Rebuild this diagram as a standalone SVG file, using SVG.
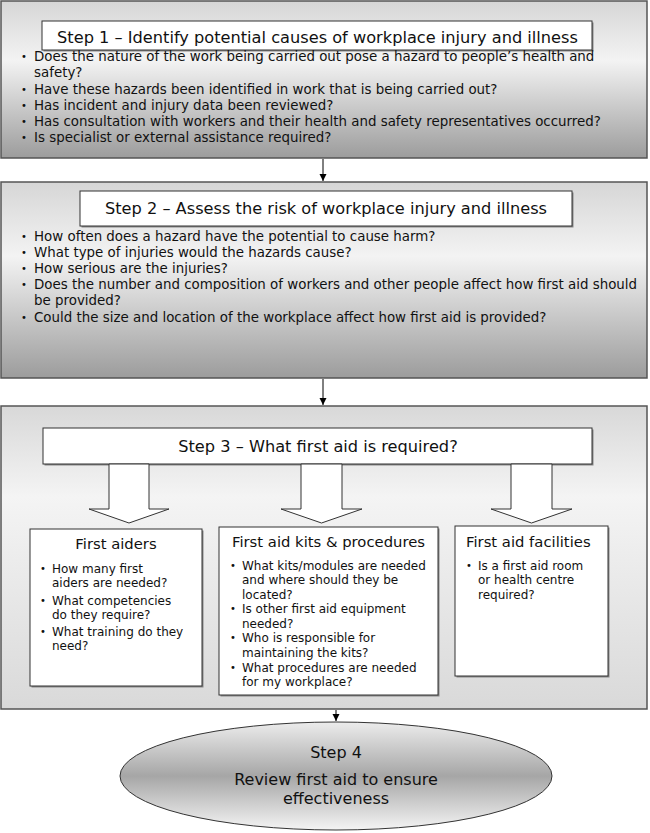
<svg xmlns="http://www.w3.org/2000/svg" width="650" height="833" viewBox="0 0 650 833">
<defs>
<linearGradient id="gStep" x1="0" y1="0" x2="0" y2="1">
<stop offset="0" stop-color="#d6d6d6"/>
<stop offset="0.38" stop-color="#f3f3f3"/>
<stop offset="1" stop-color="#9c9c9c"/>
</linearGradient>
<linearGradient id="gStep3" x1="0" y1="0" x2="0" y2="1">
<stop offset="0" stop-color="#d8d8d8"/>
<stop offset="0.3" stop-color="#f4f4f4"/>
<stop offset="1" stop-color="#d9d9d9"/>
</linearGradient>
<linearGradient id="gEll" x1="0" y1="0" x2="0" y2="1">
<stop offset="0" stop-color="#ececec"/>
<stop offset="0.5" stop-color="#a6a6a6"/>
<stop offset="1" stop-color="#f4f4f4"/>
</linearGradient>
<marker id="ah" markerWidth="8" markerHeight="8" refX="7" refY="4" orient="auto" markerUnits="userSpaceOnUse">
<path d="M0,0.5 L7,4 L0,7.5 Z" fill="#000"/>
</marker>
</defs>
<style>
text{font-family:"DejaVu Sans","Verdana",sans-serif;fill:#111}
.outer{stroke:#555;stroke-width:1.5}
.tbox{fill:#fff;stroke:#333;stroke-width:1}
.shadow{fill:#888}
.title{font-size:16.2px;text-anchor:middle}
.sub{font-size:14.8px}
.big{font-size:16px;text-anchor:middle}
.sb{font-size:13.4px}
.b{font-size:12px}
.dot{font-size:10px}
.conn{stroke:#000;stroke-width:1;fill:none;marker-end:url(#ah)}
.barrow{fill:#fff;stroke:#333;stroke-width:1}
</style>

<g id="step1">
<rect class="outer" x="1" y="1" width="646" height="157" fill="url(#gStep)"/>
<rect class="shadow" x="43.5" y="22.5" width="550" height="29"/>
<rect class="tbox" x="42" y="21" width="550" height="29"/>
<text class="title" x="317.5" y="42.5">Step 1 – Identify potential causes of workplace injury and illness</text>
<g class="sb">
<text class="dot" x="21" y="60">•</text><text x="34" y="61">Does the nature of the work being carried out pose a hazard to people’s health and</text>
<text x="34" y="77">safety?</text>
<text class="dot" x="21" y="92.5">•</text><text x="34" y="93.5">Have these hazards been identified in work that is being carried out?</text>
<text class="dot" x="21" y="108.5">•</text><text x="34" y="109.5">Has incident and injury data been reviewed?</text>
<text class="dot" x="21" y="125">•</text><text x="34" y="126">Has consultation with workers and their health and safety representatives occurred?</text>
<text class="dot" x="21" y="141">•</text><text x="34" y="142">Is specialist or external assistance required?</text>
</g>
</g>

<g id="step2">
<rect class="outer" x="1" y="182" width="646" height="196" fill="url(#gStep)"/>
<rect class="shadow" x="81.5" y="192.5" width="492" height="35"/>
<rect class="tbox" x="80" y="191" width="492" height="35"/>
<text class="title" x="326" y="213.5">Step 2 – Assess the risk of workplace injury and illness</text>
<g class="sb">
<text class="dot" x="21" y="239.5">•</text><text x="34" y="240.5">How often does a hazard have the potential to cause harm?</text>
<text class="dot" x="21" y="255.7">•</text><text x="34" y="256.7">What type of injuries would the hazards cause?</text>
<text class="dot" x="21" y="271.9">•</text><text x="34" y="272.9">How serious are the injuries?</text>
<text class="dot" x="21" y="288.1">•</text><text x="34" y="289.1">Does the number and composition of workers and other people affect how first aid should</text>
<text x="34" y="305.3">be provided?</text>
<text class="dot" x="21" y="320.5">•</text><text x="34" y="321.5">Could the size and location of the workplace affect how first aid is provided?</text>
</g>
</g>

<g id="step3">
<rect class="outer" x="1" y="406" width="646" height="303" fill="url(#gStep3)"/>
<rect class="shadow" x="44.5" y="429.5" width="549" height="36"/>
<rect class="tbox" x="43" y="428" width="549" height="36"/>
<text class="title" x="318" y="451.5">Step 3 – What first aid is required?</text>
</g>

<g id="blockarrows">
<polygon class="barrow" points="109,464 149,464 149,509 169,509 129,523 89,509 109,509"/>
<polygon class="barrow" points="301,464 342,464 342,509 362,509 321.5,523 281,509 301,509"/>
<polygon class="barrow" points="511,464 552,464 552,509 572,509 531.5,523 491,509 511,509"/>
</g>

<g id="first-aiders">
<rect class="shadow" x="31.5" y="530.5" width="172" height="157"/>
<rect class="tbox" x="30" y="529" width="172" height="157"/>
<text class="sub" x="116" y="548.5" text-anchor="middle">First aiders</text>
<g class="b">
<text class="dot" x="40" y="571.5">•</text><text x="52" y="572.5">How many first</text>
<text x="52" y="586.5">aiders are needed?</text>
<text class="dot" x="40" y="603.5">•</text><text x="52" y="604.5">What competencies</text>
<text x="52" y="618.5">do they require?</text>
<text class="dot" x="40" y="634.5">•</text><text x="52" y="635.5">What training do they</text>
<text x="52" y="649.5">need?</text>
</g>
</g>

<g id="kits">
<rect class="shadow" x="220.5" y="528.5" width="219" height="168"/>
<rect class="tbox" x="219" y="527" width="219" height="168"/>
<text class="sub" x="328.5" y="546.5" text-anchor="middle">First aid kits &amp; procedures</text>
<g class="b">
<text class="dot" x="230" y="568.5">•</text><text x="242" y="569.5">What kits/modules are needed</text>
<text x="242" y="584">and where should they be</text>
<text x="242" y="598.5">located?</text>
<text class="dot" x="230" y="612">•</text><text x="242" y="613">Is other first aid equipment</text>
<text x="242" y="627.5">needed?</text>
<text class="dot" x="230" y="641">•</text><text x="242" y="642">Who is responsible for</text>
<text x="242" y="656.5">maintaining the kits?</text>
<text class="dot" x="230" y="670.5">•</text><text x="242" y="671.5">What procedures are needed</text>
<text x="242" y="686">for my workplace?</text>
</g>
</g>

<g id="facilities">
<rect class="shadow" x="456.5" y="527.5" width="153" height="150"/>
<rect class="tbox" x="455" y="526" width="153" height="150"/>
<text class="sub" x="466" y="546.5">First aid facilities</text>
<g class="b">
<text class="dot" x="466" y="568.5">•</text><text x="478" y="569.5">Is a first aid room</text>
<text x="478" y="584">or health centre</text>
<text x="478" y="598.5">required?</text>
</g>
</g>

<g id="step4">
<ellipse cx="336" cy="776" rx="216" ry="54" fill="url(#gEll)" stroke="#333" stroke-width="1"/>
<text class="big" x="336" y="757.5">Step 4</text>
<text class="big" x="336" y="784.5">Review first aid to ensure</text>
<text class="big" x="336" y="803.5">effectiveness</text>
</g>

<g id="connectors">
<line class="conn" x1="323" y1="159" x2="323" y2="181"/>
<line class="conn" x1="323" y1="379" x2="323" y2="405"/>
<line class="conn" x1="336" y1="710" x2="336" y2="721"/>
</g>
</svg>
